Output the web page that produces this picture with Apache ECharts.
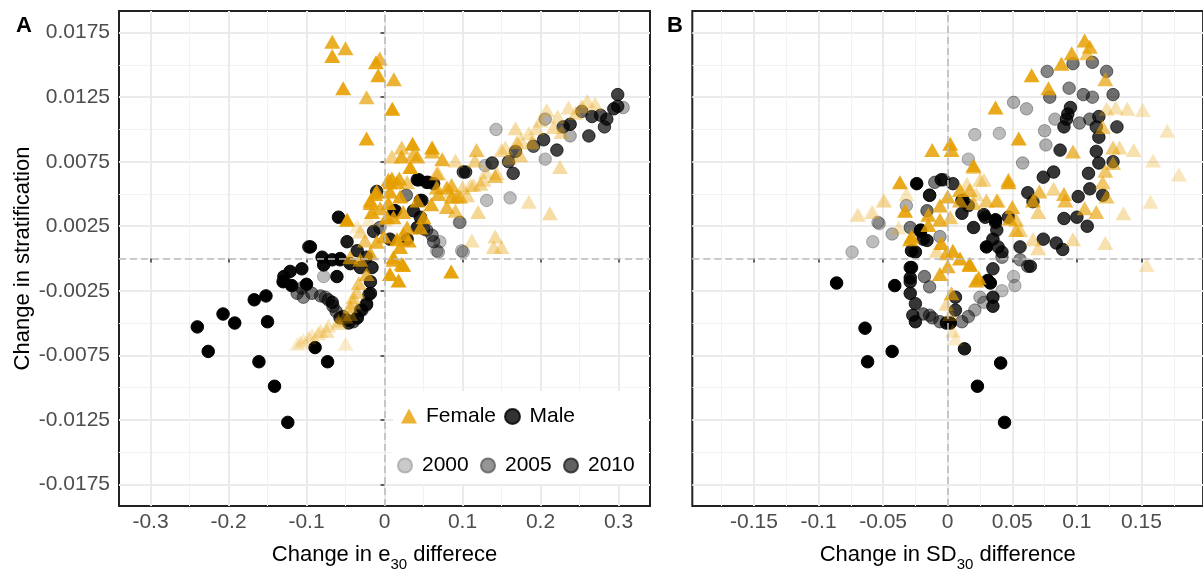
<!DOCTYPE html>
<html><head><meta charset="utf-8">
<script src="https://cdn.jsdelivr.net/npm/echarts@6/dist/echarts.min.js"></script>
<style>html,body{margin:0;padding:0;background:#fff}#c{width:1203px;height:572px}</style>
</head><body><div id="c"></div>
<script>
const FONT = '"Liberation Sans", Arial, sans-serif';

// ---- tick labels ----
const xTicksA = [-0.3, -0.2, -0.1, 0, 0.1, 0.2, 0.3];
const xMinorA = [-0.25, -0.15, -0.05, 0.05, 0.15, 0.25];
const xTicksB = [-0.15, -0.1, -0.05, 0, 0.05, 0.1, 0.15];
const xMinorB = [-0.175, -0.125, -0.075, -0.025, 0.025, 0.075, 0.125, 0.175];
const yTicks = [-0.0175, -0.0125, -0.0075, -0.0025, 0.0025, 0.0075, 0.0125, 0.0175];
const yMinor = [-0.015, -0.01, -0.005, 0, 0.005, 0.01, 0.015];
const legendSex = ['Female', 'Male'];
const legendYears = ['2000', '2005', '2010'];

// ---- data: [x, y, year] ----
const maleA = [
[-0.240,-0.0053,2014],[-0.226,-0.0072,2014],[-0.207,-0.0043,2014],[-0.192,-0.0050,2014],[-0.167,-0.0032,2014],[-0.152,-0.0029,2014],[-0.150,-0.0049,2014],[-0.161,-0.0080,2014],[-0.141,-0.0099,2014],[-0.124,-0.0127,2014],[-0.089,-0.0069,2014],[-0.073,-0.0080,2014],[-0.130,-0.0018,2014],[-0.119,-0.0021,2014],[-0.100,-0.0020,2014],[-0.129,-0.0014,2013],[-0.121,-0.0010,2013],[-0.106,-0.0008,2013],[-0.095,0.0009,2013],[-0.080,0.0001,2013],[-0.078,-0.0005,2013],[-0.067,-0.0001,2013],[-0.059,0.0032,2013],[-0.057,-0.0001,2013],[-0.061,-0.0014,2013],[-0.048,0.0013,2012],[-0.044,-0.0004,2012],[-0.057,0.0000,2012],[-0.097,0.0009,2011],
[-0.035,0.0006,2011],[-0.031,-0.0007,2011],[-0.023,0.0001,2011],[-0.016,-0.0007,2011],[-0.014,0.0021,2010],[-0.018,-0.0018,2011],[-0.018,-0.0027,2011],[-0.023,-0.0035,2010],[-0.029,-0.0040,2010],[-0.035,-0.0046,2010],[-0.046,-0.0050,2010],[-0.057,-0.0046,2010],[-0.067,-0.0034,2010],[-0.010,0.0052,2010],[0.007,0.0015,2011],[0.014,0.0037,2011],[0.029,0.0015,2011],[0.042,0.0024,2011],[0.037,0.0037,2011],[0.046,0.0032,2011],[0.046,0.0045,2011],[0.044,0.0061,2012],[0.054,0.0059,2012],[0.063,0.0058,2011],[0.042,0.0061,2012],[0.056,0.0059,2011],[0.048,0.0045,2010],[0.012,0.0037,2010],
[-0.106,-0.0023,2005],[-0.093,-0.0027,2005],[-0.082,-0.0029,2005],[-0.072,-0.0032,2006],[-0.066,-0.0037,2006],[-0.062,-0.0041,2006],[-0.053,-0.0045,2006],[-0.047,-0.0048,2007],[-0.040,-0.0049,2007],[-0.035,-0.0046,2007],[-0.031,-0.0040,2007],[-0.023,-0.0036,2007],[-0.020,-0.0028,2007],[-0.112,-0.0027,2005],[-0.104,-0.0030,2004],[-0.076,-0.0030,2004],
[-0.006,0.0024,2005],[0.028,0.0049,2005],[0.050,0.0023,2005],[0.061,0.0018,2004],[0.054,0.0022,2005],[0.063,0.0013,2005],
[-0.078,-0.0014,2000],[0.071,0.0013,2000],[0.067,0.0006,2000],[0.097,0.0028,2000],[0.099,0.0006,2000],[0.096,0.0028,2001],[0.069,0.0005,2001],[0.101,0.0005,2000],[0.131,0.0045,2000],[0.161,0.0047,2000],[0.129,0.0072,2000],[0.206,0.0077,2000],[0.143,0.0100,2000],[0.206,0.0108,2001],[0.238,0.0095,2001],[0.306,0.0117,2001],
[0.101,0.0067,2008],[0.104,0.0067,2009],[0.138,0.0074,2009],[0.159,0.0075,2008],[0.165,0.0066,2009],[0.168,0.0083,2008],[0.191,0.0087,2007],[0.204,0.0092,2009],[0.221,0.0084,2009],[0.229,0.0102,2008],[0.238,0.0104,2010],[0.262,0.0095,2009],[0.266,0.0110,2009],[0.277,0.0111,2008],[0.282,0.0102,2008],[0.285,0.0108,2009],[0.294,0.0116,2010],[0.299,0.0127,2009],[0.299,0.0118,2009],[0.253,0.0114,2006]
];

const femaleA = [
[-0.067,0.0168,2011],[-0.050,0.0163,2010],[-0.067,0.0157,2012],[-0.011,0.0152,2012],[-0.006,0.0155,2009],[-0.008,0.0142,2012],[0.012,0.0139,2010],[-0.053,0.0132,2012],[-0.023,0.0125,2008],[0.010,0.0116,2013],[-0.023,0.0093,2012],
[0.036,0.0089,2013],[0.061,0.0086,2013],[0.022,0.0086,2006],[0.037,0.0081,2008],[0.074,0.0077,2010],[0.033,0.0071,2013],[0.091,0.0076,2002],[0.118,0.0084,2007],[0.116,0.0076,2004],[0.142,0.0064,2007],[0.127,0.0061,2002],[0.150,0.0084,2002],[0.168,0.0101,2002],[0.170,0.0090,2004],[0.174,0.0080,2004],[0.189,0.0090,2004],[0.0095,0.0062,2012],[0.069,0.0066,2003],[0.110,0.0057,2001],[0.123,0.0058,2003],
[0.208,0.0115,2001],[0.236,0.0117,2001],[0.253,0.0118,2002],[0.217,0.0102,2002],[0.227,0.0098,2002],[0.225,0.0071,2002],[0.185,0.0044,2001],[0.212,0.0035,2002],[0.144,0.0066,2002],[0.120,0.0036,2003],[0.112,0.0014,2001],[0.142,0.0017,2002],[0.140,0.0009,2002],[0.150,0.0009,2002],[0.0855,-0.0010,2013],
[0.130,0.0067,2001],[0.160,0.0078,2001],[0.175,0.0092,2001],[0.195,0.0101,2001],[0.260,0.0122,2001],[0.245,0.0113,2002],[0.100,0.0055,2002],[0.085,0.0052,2002],[0.200,0.0107,2001],[0.222,0.0110,2001],[0.270,0.0120,2001],[0.185,0.0097,2001],[0.155,0.0086,2001],
[0.018,-0.0017,2013],[0.024,-0.0005,2012],[0.029,0.0059,2006],[0.020,0.0048,2012],[0.067,0.0066,2006],[0.069,0.0050,2010],[0.080,0.0055,2010],[0.086,0.0048,2010],[0.097,0.0048,2008],[0.106,0.0049,2003],[0.114,0.0057,2002],[0.091,0.0037,2006],[0.080,0.0040,2009],[0.060,0.0042,2011],[0.050,0.0032,2011],[0.046,0.0024,2011],[0.031,0.0014,2012],[0.020,0.0009,2012],[0.0115,0.0001,2012],[0.022,-0.0004,2011],[0.007,-0.0012,2013],[0.003,0.0032,2012],[0.005,0.0043,2012],[0.007,0.0052,2012],[0.022,0.0079,2011],[0.042,0.0079,2010],[0.061,0.0083,2009],[0.007,0.0059,2012],[0.016,0.0059,2010],[-0.012,0.0050,2012],[-0.018,0.0043,2011],[-0.016,0.0036,2012],[-0.048,0.0030,2014],[-0.0055,0.0039,2010],[0.0115,0.0032,2011],[0.024,0.0036,2011],[0.042,0.0045,2010],[0.067,0.0055,2009],[0.086,0.0057,2009],[0.093,0.0048,2008],
[-0.031,0.0021,2002],[-0.025,0.0014,2006],[-0.010,0.0013,2010],[-0.001,0.0017,2011],[0.016,0.0015,2012],[0.024,0.0019,2011],[0.029,0.0024,2010],[-0.044,0.0001,2008],[-0.031,-0.0001,2008],[-0.018,0.0004,2010],[0.0115,-0.0001,2011],[-0.023,-0.0012,2008],[-0.033,-0.0019,2006],[-0.040,-0.0030,2003],[-0.044,-0.0037,2004],[-0.050,-0.0045,2002],[-0.074,-0.0056,2001],[-0.085,-0.0058,2000],[-0.097,-0.0061,1999],[-0.108,-0.0065,1999],[-0.050,-0.0066,1999],[-0.059,-0.0050,2001],[-0.112,-0.0066,1998],[-0.104,-0.0063,1999],[-0.093,-0.0059,1999],[-0.082,-0.0056,2000],[-0.072,-0.0052,2000],[-0.059,-0.0048,2001],[-0.044,-0.0043,2002],[-0.040,-0.0034,2003],[-0.035,-0.0026,2004],[-0.018,0.0045,2012],[-0.010,0.0052,2012],[0.005,0.0061,2012],[0.0095,0.0079,2004],[0.019,0.0062,2011],[-0.035,0.0025,1999],[-0.020,0.0030,1999],[0.000,0.0030,2000]
];

const maleB = [
[-0.074,0.0005,2000],[-0.058,0.0013,2000],[-0.053,0.0027,2000],[-0.043,0.0019,2001],[-0.032,0.0041,2001],[-0.054,0.0028,2000],[0.016,0.0077,2000],[0.058,0.0074,2001],[0.051,0.0121,2001],[0.061,0.0116,2001],[0.040,0.0097,2000],[0.021,0.0096,2000],[0.083,0.0108,2001],[0.075,0.0099,2001],[0.076,0.0088,2001],[0.051,-0.0014,2000],[0.042,-0.0025,2000],[0.052,-0.0021,2000],[0.028,-0.0034,2001],[0.021,-0.0040,2002],[0.025,-0.0030,2001],[-0.006,0.0017,2002],
[-0.029,0.0024,2005],[-0.010,0.0059,2005],[-0.003,0.0061,2005],[-0.014,0.0049,2006],[-0.016,0.0037,2006],[-0.019,-0.0043,2006],[-0.012,-0.0046,2005],[-0.006,-0.0049,2005],[0.016,-0.0045,2004],[0.011,-0.0049,2004],[-0.014,-0.0044,2004],[-0.014,-0.0022,2004],[-0.018,-0.0014,2005],[0.056,-0.0001,2004],[0.062,-0.0006,2005],[0.042,0.0001,2004],
[0.077,0.0145,2004],[0.097,0.0151,2005],[0.112,0.0152,2005],[0.123,0.0145,2005],[0.128,0.0127,2006],[0.112,0.0125,2004],[0.105,0.0127,2005],[0.079,0.0125,2005],[0.094,0.0132,2004],[0.102,0.0105,2004],[0.110,0.0108,2005],
[-0.021,0.0021,2011],[-0.016,0.0014,2011],[-0.025,0.0005,2012],[-0.029,-0.0007,2011],[-0.029,-0.0018,2011],[-0.029,-0.0027,2011],[-0.025,-0.0035,2010],[-0.027,-0.0044,2010],[-0.025,-0.0049,2011],[-0.001,-0.0050,2012],[0.035,-0.0037,2011],[0.035,-0.0030,2011],[0.006,-0.0040,2010],[0.006,-0.0030,2010],[0.004,0.0058,2010],[-0.014,0.0049,2010],[0.011,0.0045,2010],[0.011,0.0035,2011],[0.016,0.0041,2010],[0.020,0.0024,2011],[0.028,0.0034,2011],[0.038,0.0022,2010],[0.035,0.0015,2011],[0.039,0.0009,2010],[0.035,-0.0008,2010],[-0.019,0.0015,2011],[-0.028,0.0006,2012],[-0.028,-0.0007,2012],[-0.029,-0.0015,2012],
[0.131,0.0102,2009],[0.095,0.0117,2010],[0.093,0.0112,2010],[0.092,0.0108,2010],[0.090,0.0102,2010],[0.087,0.0084,2010],[0.117,0.0110,2009],[0.115,0.0102,2009],[0.117,0.0094,2010],[0.115,0.0083,2010],[0.117,0.0074,2010],[0.128,0.0075,2009],[0.109,0.0066,2010],[0.110,0.0054,2010],[0.120,0.0049,2010],[0.101,0.0048,2010],[0.100,0.0032,2010],[0.108,0.0025,2010],[0.090,0.0031,2010],[0.082,0.0067,2010],[0.074,0.0063,2010],[0.074,0.0015,2010],[0.084,0.0012,2010],[0.089,0.0007,2010],[0.062,0.0051,2010],[0.066,0.0044,2009],[0.056,0.0009,2010],[0.064,-0.0006,2010],[0.047,0.0032,2010],[0.037,0.0028,2011],[0.029,0.0032,2011],[0.042,0.0005,2010],[0.012,0.0045,2011],[-0.005,0.0061,2011],
[-0.024,0.0058,2014],[-0.086,-0.0019,2014],[-0.041,-0.0021,2014],[-0.064,-0.0054,2014],[-0.062,-0.0080,2014],[-0.043,-0.0072,2014],[0.044,-0.0127,2014],[0.023,-0.0099,2014],[0.041,-0.0081,2014],[0.013,-0.0070,2012],[0.002,-0.0050,2014],[0.033,-0.0019,2014],[0.037,0.0030,2014],[0.030,0.0009,2014],[0.031,-0.0017,2014],[-0.021,0.0022,2014]
];

const femaleB = [
[0.106,0.0169,2011],[0.110,0.0164,2010],[0.108,0.0159,2006],[0.096,0.0159,2011],[0.088,0.0151,2011],[0.065,0.0142,2012],[0.078,0.0132,2011],[0.122,0.0139,2008],[0.037,0.0117,2012],[0.055,0.0093,2012],[0.002,0.0089,2012],[0.020,0.0072,2012],[0.097,0.0083,2008],
[0.123,0.0116,2001],[0.130,0.0117,2001],[0.139,0.0116,2001],[0.151,0.0115,2000],[0.170,0.0099,2000],[0.120,0.0102,2006],[0.128,0.0086,2005],[0.133,0.0086,2002],[0.144,0.0084,2001],[0.159,0.0076,2000],[0.179,0.0065,2000],[0.157,0.0044,2000],[0.136,0.0035,2001],[0.122,0.0012,2001],[0.154,-0.0005,2000],
[0.128,0.0074,2006],[0.122,0.0068,2006],[0.120,0.0059,2006],[0.123,0.0048,2006],[0.115,0.0036,2007],[0.106,0.0039,2007],[0.097,0.0015,2002],[0.090,0.0050,2009],[0.091,0.0045,2008],[0.082,0.0054,2003],[0.070,0.0036,2004],[0.071,0.0052,2008],[0.066,0.0045,2009],[0.066,0.0015,2002],[0.070,0.0008,2002],[0.056,0.0022,2004],[0.053,0.0022,2008],[0.047,0.0061,2009],[0.039,0.0045,2001],[0.025,0.0061,2002],[0.017,0.0053,2008],[0.030,0.0045,2006],[0.020,0.0043,2006],[0.0095,0.0045,2008],[0.050,0.0040,2010],[0.053,0.0030,2006],[0.017,-0.0004,2012],[0.022,-0.0017,2012],[-0.001,0.0004,2010],[0.000,-0.0006,2010],
[-0.037,0.0059,2012],[-0.033,0.0037,2012],[-0.050,0.0045,1999],[-0.059,0.0036,1998],[-0.069,0.0034,1998],[-0.038,0.0024,2000],[-0.015,0.0034,2011],[-0.015,0.0026,2011],[-0.028,0.0017,2012],[-0.006,0.0030,2010],[0.002,0.0032,2006],[-0.005,0.0012,2012],[0.004,0.0006,2012],[0.0095,0.0000,2012],[0.017,-0.0005,2011],[0.024,-0.0015,2012],[-0.006,-0.0012,2011],[-0.0085,0.0006,2002],[0.003,-0.0027,2008],[-0.001,-0.0035,2002],[0.002,-0.0043,2001],[0.004,-0.0056,2000],[0.006,-0.0062,1999],[0.020,0.0071,2004],[0.015,0.0058,2001],[0.028,0.0061,2002],[0.047,0.0059,2012],[0.038,0.0045,2009],[0.048,0.0031,2010],[0.022,0.0050,2001],[0.0095,0.0053,2010],[0.000,0.0048,2010],[-0.012,0.0084,2011],[0.003,0.0084,2011],
[-0.070,0.0034,1999],[-0.058,0.0036,1999],[-0.049,0.0045,2000],[-0.032,0.0050,2000],[-0.006,0.0041,2010],[-0.029,0.0015,2011]
];

const yearColors = ['#BDBDBD', '#7A7A7A', '#3A3A3A'];

// ---- axes ----
function xMajor(grid, ticks, lim, name) {
  return {
    type: 'value', gridIndex: grid, min: -lim, max: lim, position: 'bottom',
    axisLine: { show: false },
    axisTick: { show: true, customValues: ticks, length: 4, lineStyle: { color: '#333', width: 1.5 } },
    axisLabel: { customValues: ticks, margin: 6, fontSize: 21, color: '#4D4D4D', fontFamily: FONT },
    splitLine: { show: true, lineStyle: { color: '#EBEBEB', width: 2 } },
    name: name, nameLocation: 'middle', nameGap: 32,
    nameTextStyle: { fontSize: 22, color: '#000', fontFamily: FONT,
      rich: { s: { fontSize: 15, fontFamily: FONT, color: '#000', verticalAlign: 'bottom', lineHeight: 34 } } }
  };
}
function xMinor(grid, ticks, lim) {
  return {
    type: 'value', gridIndex: grid, min: -lim, max: lim, position: 'bottom',
    axisLine: { show: false },
    axisTick: { show: false, customValues: ticks },
    axisLabel: { show: false, customValues: ticks },
    splitLine: { show: true, lineStyle: { color: '#F2F2F2', width: 1 } }
  };
}
function yMajor(grid, showLabels, name) {
  return {
    type: 'value', gridIndex: grid, min: -0.01918, max: 0.01918, position: 'left',
    axisLine: { show: false },
    axisTick: { show: showLabels, customValues: yTicks, length: 4, lineStyle: { color: '#333', width: 1.5 } },
    axisLabel: { show: showLabels, customValues: yTicks, margin: 9, fontSize: 21, color: '#4D4D4D', fontFamily: FONT },
    splitLine: { show: true, lineStyle: { color: '#EBEBEB', width: 2 } },
    name: name, nameLocation: 'middle', nameGap: 85, nameRotate: 90,
    nameTextStyle: { fontSize: 22, color: '#000', fontFamily: FONT }
  };
}
function yMinorAx(grid) {
  return {
    type: 'value', gridIndex: grid, min: -0.01918, max: 0.01918, position: 'left',
    axisLine: { show: false },
    axisTick: { show: false, customValues: yMinor },
    axisLabel: { show: false, customValues: yMinor },
    splitLine: { show: true, lineStyle: { color: '#F2F2F2', width: 1 } }
  };
}

const circleStyle = { color: '#000', borderColor: '#000', borderWidth: 1 };
const triStyle = { color: '#E69F00' };
const refLine = {
  silent: true, symbol: 'none', label: { show: false },
  lineStyle: { color: '#BBBBBB', type: [7, 4], width: 1.5 },
  data: [{ xAxis: 0 }, { yAxis: 0 }]
};

const textStyle = { fontSize: 21, color: '#000', fontFamily: FONT };

const option = {
  animation: false,
  backgroundColor: '#fff',
  textStyle: { fontFamily: FONT },
  title: [
    { text: 'A', left: 16, top: 15, padding: 0, textStyle: { fontSize: 22, fontWeight: 'bold', color: '#000', fontFamily: FONT } },
    { text: 'B', left: 667, top: 15, padding: 0, textStyle: { fontSize: 22, fontWeight: 'bold', color: '#000', fontFamily: FONT } }
  ],
  grid: [
    { left: 119, top: 11, width: 531, height: 495, show: true, borderColor: '#222', borderWidth: 2, backgroundColor: '#fff', outerBoundsMode: 'none', containLabel: false },
    { left: 692.3, top: 11, width: 510.8, height: 495, show: true, borderColor: '#222', borderWidth: 2, backgroundColor: '#fff', outerBoundsMode: 'none', containLabel: false }
  ],
  xAxis: [
    xMajor(0, xTicksA, 0.3404, 'Change in e{s|30} differece'),
    xMinor(0, xMinorA, 0.3404),
    xMajor(1, xTicksB, 0.1977, 'Change in SD{s|30} difference'),
    xMinor(1, xMinorB, 0.1977)
  ],
  yAxis: [
    yMajor(0, true, 'Change in stratification'),
    yMinorAx(0),
    yMajor(1, false, ''),
    yMinorAx(1)
  ],
  visualMap: [{
    type: 'continuous', show: false, dimension: 2, min: 1997, max: 2014,
    seriesIndex: [0, 1, 2, 3], inRange: { opacity: [0.1, 1] }
  }],
  legend: [
    { data: [{ name: legendSex[0], icon: 'triangle' }], left: 401, top: 405.5, itemWidth: 16, itemHeight: 15, padding: 0, textStyle: Object.assign({ padding: [0, 0, 0, 4] }, textStyle), selectedMode: false },
    { data: [{ name: legendSex[1], icon: 'circle' }], left: 504, top: 406, itemWidth: 24, itemHeight: 15, padding: 0, textStyle: textStyle, selectedMode: false },
    { data: [{ name: legendYears[0], icon: 'circle' }], left: 397, top: 455, itemWidth: 24, itemHeight: 14, padding: 0, textStyle: textStyle, selectedMode: false },
    { data: [{ name: legendYears[1], icon: 'circle' }], left: 480, top: 455, itemWidth: 24, itemHeight: 14, padding: 0, textStyle: textStyle, selectedMode: false },
    { data: [{ name: legendYears[2], icon: 'circle' }], left: 563, top: 455, itemWidth: 24, itemHeight: 14, padding: 0, textStyle: textStyle, selectedMode: false }
  ],
  graphic: [{ type: 'rect', z: 3, shape: { x: 393, y: 391, width: 254, height: 93 }, style: { fill: '#fff' } }],
  series: [
    { name: 'Male', type: 'scatter', xAxisIndex: 0, yAxisIndex: 0, data: maleA, symbol: 'circle', symbolSize: 12.5, itemStyle: circleStyle, z: 2 },
    { name: 'Female', type: 'scatter', xAxisIndex: 0, yAxisIndex: 0, data: femaleA, symbol: 'triangle', symbolSize: [16, 14], itemStyle: triStyle, z: 2 },
    { name: 'Male', type: 'scatter', xAxisIndex: 2, yAxisIndex: 2, data: maleB, symbol: 'circle', symbolSize: 12.5, itemStyle: circleStyle, z: 2 },
    { name: 'Female', type: 'scatter', xAxisIndex: 2, yAxisIndex: 2, data: femaleB, symbol: 'triangle', symbolSize: [16, 14], itemStyle: triStyle, z: 2 },
    { name: legendYears[0], type: 'scatter', xAxisIndex: 0, yAxisIndex: 0, data: [], itemStyle: { color: yearColors[0], borderColor: '#A8A8A8', borderWidth: 1 } },
    { name: legendYears[1], type: 'scatter', xAxisIndex: 0, yAxisIndex: 0, data: [], itemStyle: { color: yearColors[1], borderColor: '#5E5E5E', borderWidth: 1 } },
    { name: legendYears[2], type: 'scatter', xAxisIndex: 0, yAxisIndex: 0, data: [], itemStyle: { color: yearColors[2], borderColor: '#222', borderWidth: 1 } },
    { type: 'scatter', xAxisIndex: 0, yAxisIndex: 0, data: [], z: 1, markLine: refLine },
    { type: 'scatter', xAxisIndex: 2, yAxisIndex: 2, data: [], z: 1, markLine: refLine }
  ]
};

const chart = echarts.init(document.getElementById('c'), null, { renderer: 'canvas' });
chart.setOption(option);
</script></body></html>
